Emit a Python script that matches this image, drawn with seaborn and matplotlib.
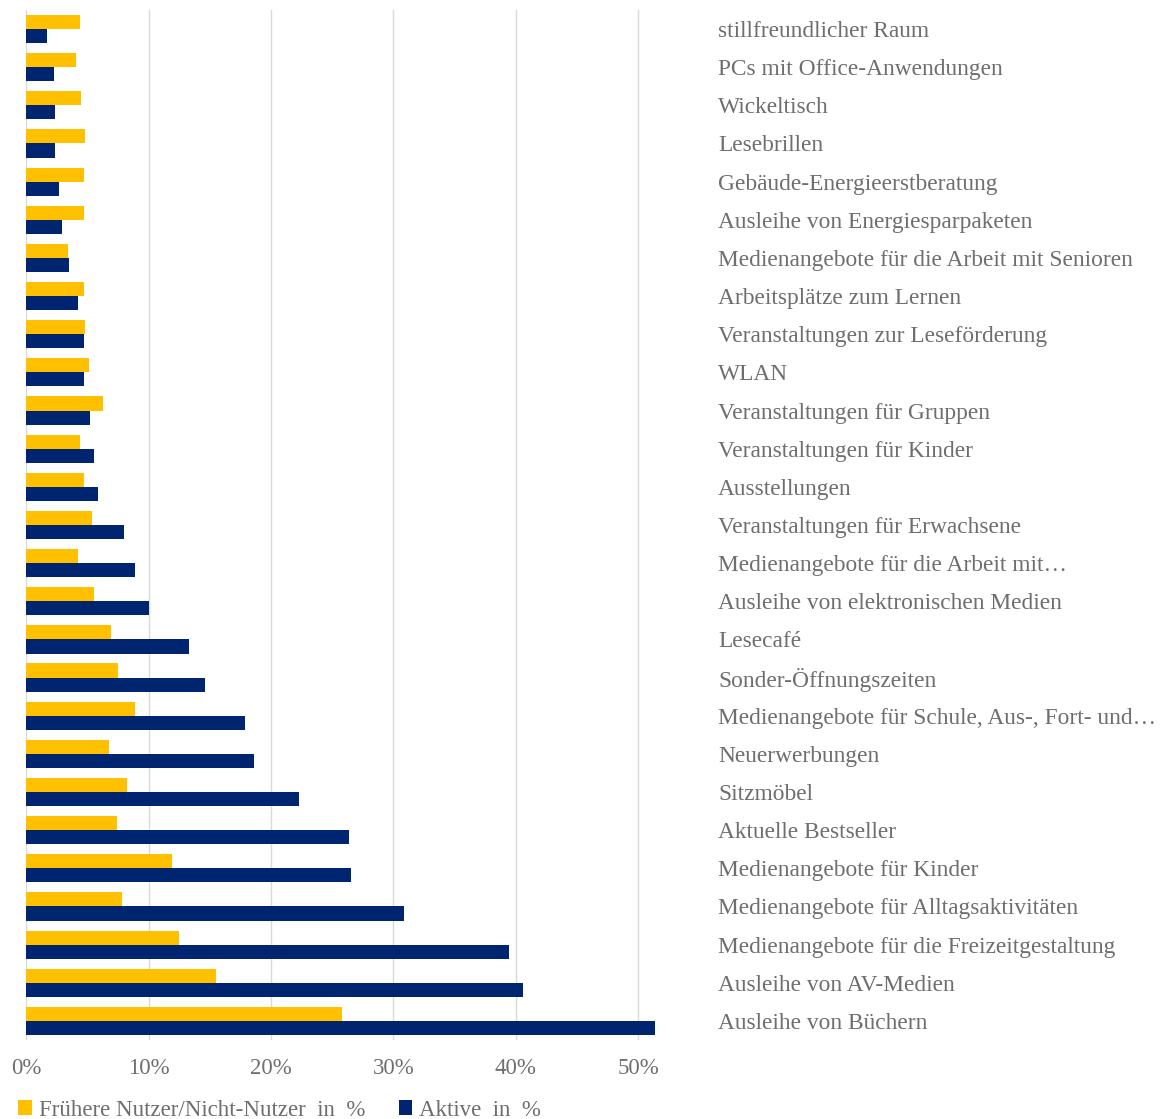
import matplotlib
matplotlib.use("Agg")
import matplotlib.pyplot as plt
import seaborn as sns
import pandas as pd
from matplotlib.patches import Patch
from matplotlib.ticker import FuncFormatter

categories = [
    "stillfreundlicher Raum",
    "PCs mit Office-Anwendungen",
    "Wickeltisch",
    "Lesebrillen",
    "Gebäude-Energieerstberatung",
    "Ausleihe von Energiesparpaketen",
    "Medienangebote für die Arbeit mit Senioren",
    "Arbeitsplätze zum Lernen",
    "Veranstaltungen zur Leseförderung",
    "WLAN",
    "Veranstaltungen für Gruppen",
    "Veranstaltungen für Kinder",
    "Ausstellungen",
    "Veranstaltungen für Erwachsene",
    "Medienangebote für die Arbeit mit…",
    "Ausleihe von elektronischen Medien",
    "Lesecafé",
    "Sonder-Öffnungszeiten",
    "Medienangebote für Schule, Aus-, Fort- und…",
    "Neuerwerbungen",
    "Sitzmöbel",
    "Aktuelle Bestseller",
    "Medienangebote für Kinder",
    "Medienangebote für Alltagsaktivitäten",
    "Medienangebote für die Freizeitgestaltung",
    "Ausleihe von AV-Medien",
    "Ausleihe von Büchern",
]

fruehere = [4.4, 4.1, 4.5, 4.8, 4.7, 4.7, 3.4, 4.7, 4.8, 5.1,
            6.3, 4.4, 4.7, 5.4, 4.2, 5.5, 6.9, 7.5, 8.9, 6.8,
            8.25, 7.4, 11.9, 7.8, 12.5, 15.5, 25.8]
aktive = [1.7, 2.25, 2.35, 2.35, 2.65, 2.95, 3.5, 4.2, 4.7, 4.7,
          5.2, 5.5, 5.9, 8.0, 8.9, 10.05, 13.3, 14.6, 17.85, 18.6,
          22.3, 26.4, 26.5, 30.9, 39.4, 40.6, 51.35]

series_names = ["Frühere Nutzer/Nicht-Nutzer  in  %", "Aktive  in  %"]
colors = ["#FFC000", "#002570"]
xticks = [0, 10, 20, 30, 40, 50]

df = pd.DataFrame({
    "Kategorie": categories * 2,
    "Wert": fruehere + aktive,
    "Gruppe": [series_names[0]] * len(categories) + [series_names[1]] * len(categories),
})

sns.set_theme(style="white")
plt.rcParams["font.family"] = ["Liberation Serif", "DejaVu Serif"]
text_color = "#6E6E6E"
fs = 16.5

fig = plt.figure(figsize=(11.62, 11.19), dpi=100)
ax = fig.add_axes([0.0226, 0.0706, 0.5583, 0.9205])

sns.barplot(data=df, y="Kategorie", x="Wert", hue="Gruppe", order=categories,
            hue_order=series_names, palette=colors, saturation=1, orient="h",
            width=0.74, linewidth=0, ax=ax, legend=False)

ax.set_xlim(0, 53)
ax.set_ylim(len(categories) - 0.5, -0.5)
ax.set_xticks(xticks)
ax.xaxis.set_major_formatter(FuncFormatter(lambda v, p: f"{int(v)}%"))
ax.grid(axis="x", color="#D9D9D9", linewidth=1.0)
ax.set_axisbelow(True)
for s in ax.spines.values():
    s.set_visible(False)
ax.set_xlabel("")
ax.set_ylabel("")

ax.yaxis.tick_right()
ax.tick_params(axis="y", length=0, pad=31, labelsize=16.8, labelcolor=text_color)
for lab in ax.get_yticklabels():
    lab.set_horizontalalignment("left")
ax.tick_params(axis="x", length=0, pad=13, labelsize=fs, labelcolor=text_color)

handles = [Patch(facecolor=c, edgecolor="none") for c in colors]
fig.legend(handles, series_names, loc="lower left", bbox_to_anchor=(0.0, -0.018),
           ncol=2, frameon=False, fontsize=fs, labelcolor=text_color, borderpad=0.3,
           handlelength=0.6, handleheight=0.6, handletextpad=0.3, columnspacing=1.45)

fig.savefig("out.png", dpi=100)
